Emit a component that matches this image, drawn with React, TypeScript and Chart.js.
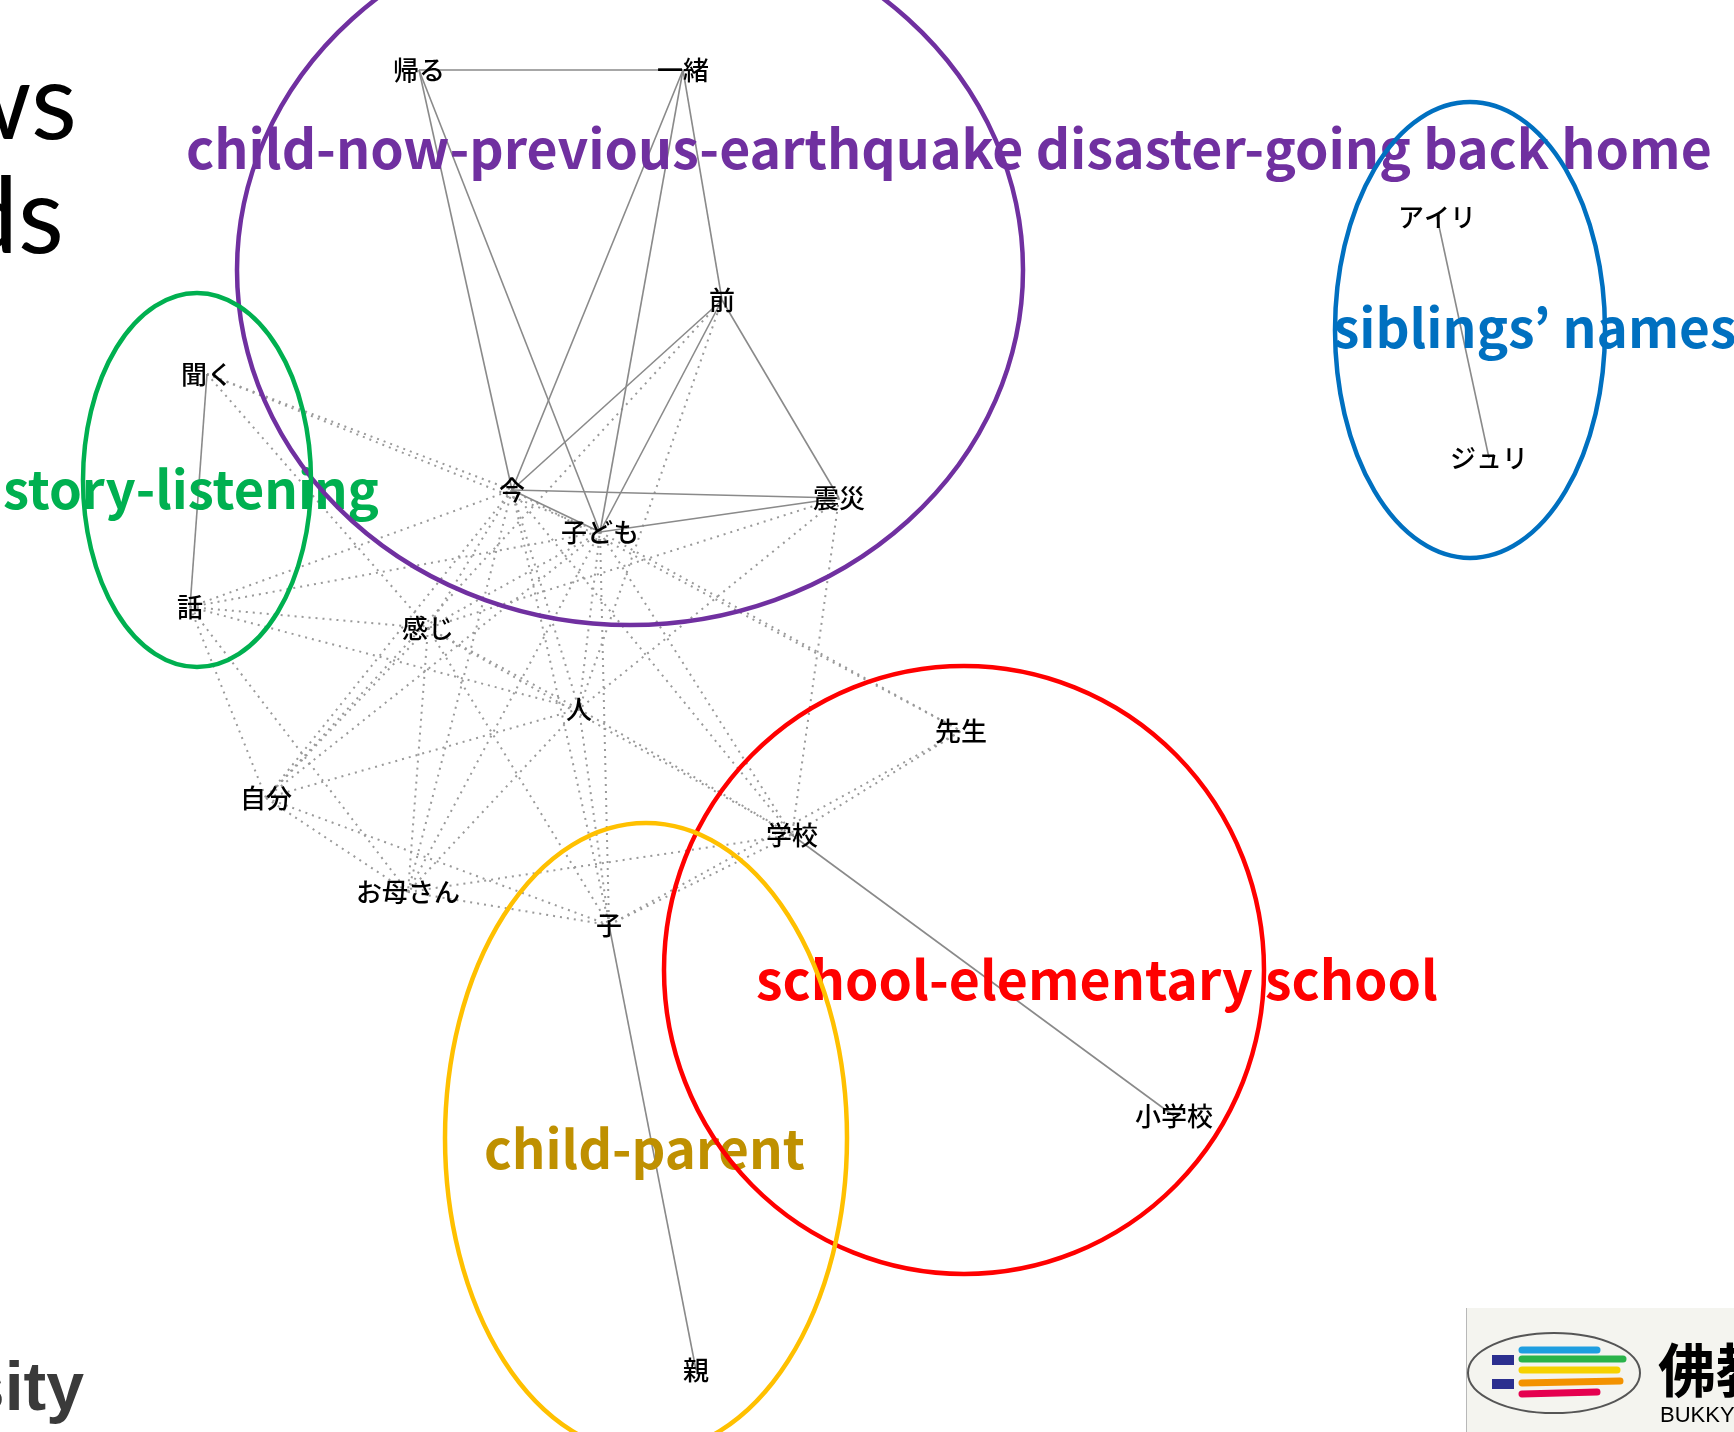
import React, { useEffect, useRef } from "react";
import { Chart, registerables } from "chart.js";

Chart.register(...registerables);

const W = 1734;
const H = 1432;

// ---- nodes (words of the co-occurrence network) ----
const nodeNames = ["帰る", "一緒", "前", "今", "子ども", "震災", "聞く", "話", "感じ", "人", "先生", "学校", "子", "自分", "お母さん", "小学校", "親", "アイリ", "ジュリ"];
const nodeX = [419, 683, 722, 512, 600, 839, 207, 190, 428, 579, 961, 792, 609, 266, 408, 1174, 696, 1437, 1489];
const nodeY = [70, 70, 300, 490, 532, 498, 374, 607, 628, 709, 731, 835, 925, 798, 892, 1116, 1370, 217, 458];

// ---- edges ----
const solidEdges: [string, string][] = [
  ["帰る", "一緒"], ["帰る", "今"], ["帰る", "子ども"], ["一緒", "今"], ["一緒", "子ども"], ["一緒", "前"],
  ["前", "今"], ["前", "子ども"], ["前", "震災"], ["今", "震災"], ["今", "子ども"], ["子ども", "震災"],
  ["聞く", "話"], ["学校", "小学校"], ["子", "親"], ["アイリ", "ジュリ"],
];
const dottedEdges: [string, string][] = [
  ["聞く", "今"], ["聞く", "子ども"], ["聞く", "感じ"],
  ["話", "今"], ["話", "子ども"], ["話", "感じ"], ["話", "人"], ["話", "自分"], ["話", "お母さん"],
  ["前", "自分"], ["前", "人"],
  ["今", "感じ"], ["今", "自分"], ["今", "人"], ["今", "お母さん"], ["今", "子"], ["今", "学校"], ["今", "先生"],
  ["子ども", "感じ"], ["子ども", "自分"], ["子ども", "人"], ["子ども", "お母さん"], ["子ども", "子"], ["子ども", "学校"], ["子ども", "先生"],
  ["震災", "感じ"], ["震災", "人"], ["震災", "学校"],
  ["感じ", "人"], ["感じ", "自分"], ["感じ", "お母さん"], ["感じ", "子"], ["感じ", "学校"],
  ["人", "自分"], ["人", "お母さん"], ["人", "子"], ["人", "学校"],
  ["自分", "お母さん"], ["自分", "子"],
  ["お母さん", "子"], ["お母さん", "学校"],
  ["子", "学校"], ["子", "先生"], ["学校", "先生"],
];

// ---- topic groups (ellipses + captions) ----
const groupTexts = ["child-now-previous-earthquake disaster-going back home", "story-listening", "siblings\u2019 names", "school-elementary school", "child-parent"];
const groupColors = ["#7030A0", "#00B050", "#0070C0", "#FF0000", "#BF9000"];
const ellipseColors = ["#7030A0", "#00B050", "#0070C0", "#FF0000", "#FFC000"];
const ellipseCX = [630, 197, 1470, 964, 646];
const ellipseCY = [270, 480, 330, 970, 1138];
const ellipseRX = [393, 114, 135, 300, 201];
const ellipseRY = [355, 187, 228, 304, 315];
const captionX = [186, 3, 1333, 756, 484];
const captionW = [1526, 376, 0, 682, 321];
const captionBase = [169, 509, 348, 1000, 1169];

// ---- slide remnants ----
const slideTexts = ["ws", "ds", "sity"];
const slideRight = [77, 64, 84];
const slideBase = [139, 253, 1410];

const CJK = "'Noto Sans CJK JP', 'Noto Sans', sans-serif";

function idx(name: string) {
  return nodeNames.indexOf(name);
}

function edgeDataset(e: [string, string], dotted: boolean) {
  const a = idx(e[0]);
  const b = idx(e[1]);
  return {
    data: [
      { x: nodeX[a], y: nodeY[a] },
      { x: nodeX[b], y: nodeY[b] },
    ],
    showLine: true,
    borderColor: dotted ? "#9a9a9a" : "#8a8a8a",
    borderWidth: dotted ? 2 : 1.6,
    borderDash: dotted ? [2, 5] : [],
    pointRadius: 0,
    pointHoverRadius: 0,
    fill: false,
  };
}

const overlayPlugin = {
  id: "overlay",
  beforeDatasetsDraw(chart: any) {
    const ctx = chart.ctx as CanvasRenderingContext2D;
    const xs = chart.scales.x;
    const ys = chart.scales.y;
    ctx.save();
    // slide text fragments
    ctx.textAlign = "right";
    ctx.textBaseline = "alphabetic";
    ctx.fillStyle = "#000";
    ctx.font = `106px Lato, ${CJK}`;
    ctx.fillText(slideTexts[0], xs.getPixelForValue(slideRight[0]), ys.getPixelForValue(slideBase[0]));
    ctx.fillText(slideTexts[1], xs.getPixelForValue(slideRight[1]), ys.getPixelForValue(slideBase[1]));
    ctx.fillStyle = "#3a3a3a";
    ctx.font = `bold 68px 'Liberation Sans', Arial, sans-serif`;
    ctx.fillText(slideTexts[2], xs.getPixelForValue(slideRight[2]), ys.getPixelForValue(slideBase[2]));

    // logo (bottom right)
    ctx.fillStyle = "#f4f4ef";
    ctx.fillRect(1466, 1308, W - 1466, H - 1308);
    ctx.strokeStyle = "#b8b8b8";
    ctx.lineWidth = 1;
    ctx.beginPath();
    ctx.moveTo(1466.5, 1308);
    ctx.lineTo(1466.5, H);
    ctx.stroke();
    ctx.strokeStyle = "#555";
    ctx.lineWidth = 2;
    ctx.beginPath();
    ctx.ellipse(1554, 1373, 86, 40, 0, 0, Math.PI * 2);
    ctx.stroke();
    ctx.fillStyle = "#2b2f8f";
    ctx.fillRect(1492, 1355, 22, 10);
    ctx.fillRect(1492, 1379, 22, 10);
    const stripeCols = ["#1e9ee0", "#2ab34a", "#f6d200", "#f39200", "#e5004f"];
    const stripeY = [1350, 1359, 1370, 1381, 1392];
    const stripeX2 = [1597, 1623, 1617, 1620, 1597];
    ctx.lineCap = "round";
    ctx.lineWidth = 7;
    for (let i = 0; i < stripeCols.length; i++) {
      ctx.strokeStyle = stripeCols[i];
      ctx.beginPath();
      ctx.moveTo(1522, stripeY[i] + (i > 2 ? 2 : 0));
      ctx.lineTo(stripeX2[i], stripeY[i]);
      ctx.stroke();
    }
    ctx.fillStyle = "#000";
    ctx.textAlign = "left";
    ctx.font = `bold 58px ${CJK}`;
    ctx.fillText("佛教", 1658, 1392);
    ctx.font = `22px 'Liberation Sans', Arial, sans-serif`;
    ctx.fillText("BUKKYO", 1660, 1422);
    ctx.restore();
  },
  afterDatasetsDraw(chart: any) {
    const ctx = chart.ctx as CanvasRenderingContext2D;
    const xs = chart.scales.x;
    const ys = chart.scales.y;
    ctx.save();
    // node labels
    ctx.fillStyle = "#000";
    ctx.textAlign = "center";
    ctx.textBaseline = "middle";
    ctx.font = `500 26px ${CJK}`;
    for (let i = 0; i < nodeNames.length; i++) {
      ctx.fillText(nodeNames[i], xs.getPixelForValue(nodeX[i]), ys.getPixelForValue(nodeY[i]));
    }
    // captions
    ctx.textAlign = "left";
    ctx.textBaseline = "alphabetic";
    const sizes: number[] = [];
    for (let i = 0; i < groupTexts.length; i++) {
      if (captionW[i] > 0) {
        ctx.font = `bold 100px ${CJK}`;
        const m = ctx.measureText(groupTexts[i]).width;
        sizes[i] = (100 * captionW[i]) / m;
      }
    }
    const known = sizes.filter((s) => s);
    const avg = known.reduce((a, b) => a + b, 0) / known.length;
    for (let i = 0; i < groupTexts.length; i++) {
      const s = sizes[i] || avg;
      ctx.font = `bold ${s}px ${CJK}`;
      ctx.fillStyle = groupColors[i];
      ctx.fillText(groupTexts[i], xs.getPixelForValue(captionX[i]), ys.getPixelForValue(captionBase[i]));
    }
    // ellipses
    ctx.lineWidth = 4.5;
    for (let i = 0; i < ellipseCX.length; i++) {
      const cx = xs.getPixelForValue(ellipseCX[i]);
      const cy = ys.getPixelForValue(ellipseCY[i]);
      const rx = Math.abs(xs.getPixelForValue(ellipseCX[i] + ellipseRX[i]) - cx);
      const ry = Math.abs(ys.getPixelForValue(ellipseCY[i] + ellipseRY[i]) - cy);
      ctx.strokeStyle = ellipseColors[i];
      ctx.beginPath();
      ctx.ellipse(cx, cy, rx, ry, 0, 0, Math.PI * 2);
      ctx.stroke();
    }
    ctx.restore();
  },
};

export default function App() {
  const ref = useRef<HTMLCanvasElement | null>(null);
  useEffect(() => {
    if (!ref.current) return;
    const datasets: any[] = [
      ...solidEdges.map((e) => edgeDataset(e, false)),
      ...dottedEdges.map((e) => edgeDataset(e, true)),
      {
        data: nodeNames.map((_, i) => ({ x: nodeX[i], y: nodeY[i] })),
        pointRadius: 0,
        showLine: false,
      },
    ];
    const chart = new Chart(ref.current, {
      type: "scatter",
      data: { datasets },
      options: {
        responsive: false,
        maintainAspectRatio: false,
        devicePixelRatio: 1,
        animation: false,
        layout: { padding: 0 },
        plugins: { legend: { display: false }, tooltip: { enabled: false } },
        events: [],
        scales: {
          x: { type: "linear", min: 0, max: W, display: false },
          y: { type: "linear", min: 0, max: H, reverse: true, display: false },
        },
      },
      plugins: [overlayPlugin],
    } as any);
    return () => chart.destroy();
  }, []);
  return (
    <div style={{ position: "absolute", left: 0, top: 0, width: W, height: H, background: "#fff" }}>
      <canvas ref={ref} width={W} height={H} style={{ display: "block", width: W, height: H }} />
    </div>
  );
}
